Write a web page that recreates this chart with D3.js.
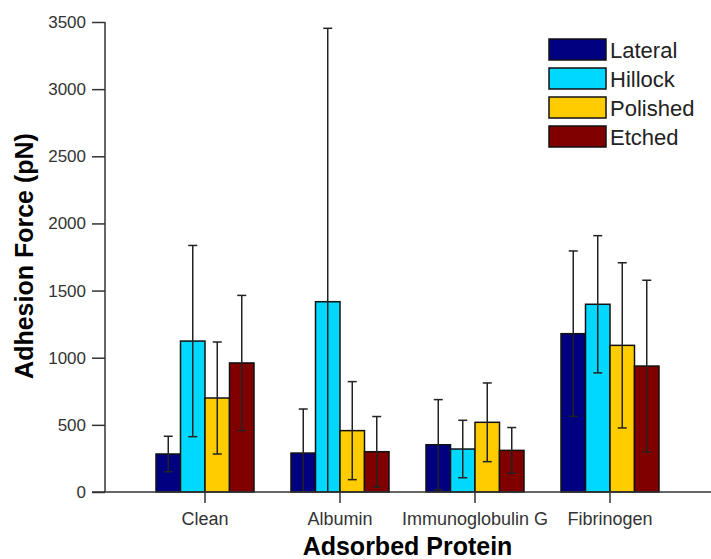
<!DOCTYPE html>
<meta charset="utf-8">
<head>
  <style>
    body { margin: 0; background: #fff; font-family: "Liberation Sans", Arial, sans-serif; }
    .tick text { fill: #333; font-size: 17px; }
    .x-axis .tick text { font-size: 18px; }
    .axis-title { font-size: 25px; font-weight: bold; fill: #000; }
    .legend-text { font-size: 22px; fill: #222; }
  </style>
  <script src="https://cdn.jsdelivr.net/npm/d3@7"></script>
</head>
<body>
  <div id="viz"></div>
</body>
<script>
var proteins = ["Clean", "Albumin", "Immunoglobulin G", "Fibrinogen"];
var surfaces = ["Lateral", "Hillock", "Polished", "Etched"];
var colors = ["#000080", "#00d8ff", "#ffcc00", "#800000"];
var yTicks = [0, 500, 1000, 1500, 2000, 2500, 3000, 3500];

// mean force per surface, one entry per protein
var lateral  = [283, 290, 352, 1179];
var hillock  = [1124, 1417, 320, 1398];
var polished = [700, 457, 519, 1092];
var etched   = [961, 300, 310, 938];

// error bar half-width (pN)
var lateralErr  = [132, 328, 336, 616];
var hillockErr  = [712, 2036, 214, 511];
var polishedErr = [417, 365, 293, 615];
var etchedErr   = [503, 262, 170, 639];

var means = [lateral, hillock, polished, etched];
var errs = [lateralErr, hillockErr, polishedErr, etchedErr];

var width = 711, height = 559;

var svg = d3.select("#viz")
  .append("svg")
    .attr("width", width)
    .attr("height", height);

var x = d3.scaleBand()
  .domain(proteins)
  .range([137.5, 677.5])
  .paddingInner(0.274)
  .paddingOuter(0.137);

var xs = d3.scaleBand()
  .domain(surfaces)
  .range([0, x.bandwidth()]);

var y = d3.scaleLinear()
  .domain([0, 3500])
  .range([492, 22]);

var rows = [];
proteins.forEach(function(p, i) {
  surfaces.forEach(function(s, j) {
    rows.push({protein: p, surface: s, idx: j, value: means[j][i], err: errs[j][i]});
  });
});

/* bars */
svg.selectAll(".bar")
  .data(rows)
  .enter()
  .append("rect")
    .attr("class", "bar")
    .attr("x", function(d) { return x(d.protein) + xs(d.surface); })
    .attr("y", function(d) { return y(d.value); })
    .attr("width", xs.bandwidth())
    .attr("height", function(d) { return y(0) - y(d.value); })
    .attr("fill", function(d) { return colors[d.idx]; })
    .attr("stroke", "#111")
    .attr("stroke-width", 1.5);

/* error bars */
var eb = svg.selectAll(".err")
  .data(rows)
  .enter()
  .append("g")
    .attr("class", "err")
    .attr("stroke", "#222")
    .attr("stroke-width", 1.5)
    .attr("transform", function(d) {
      return "translate(" + (x(d.protein) + xs(d.surface) + xs.bandwidth() / 2) + ",0)";
    });

eb.append("line")
  .attr("y1", function(d) { return y(d.value + d.err); })
  .attr("y2", function(d) { return y(Math.max(0, d.value - d.err)); });

eb.append("line")
  .attr("x1", -4.5).attr("x2", 4.5)
  .attr("y1", function(d) { return y(d.value + d.err); })
  .attr("y2", function(d) { return y(d.value + d.err); });

eb.filter(function(d) { return d.value - d.err > 0; })
  .append("line")
  .attr("x1", -4.5).attr("x2", 4.5)
  .attr("y1", function(d) { return y(d.value - d.err); })
  .attr("y2", function(d) { return y(d.value - d.err); });

/* y axis */
var yAxis = svg.append("g")
  .attr("transform", "translate(105,0)")
  .call(d3.axisLeft(y).tickValues(yTicks).tickFormat(d3.format("d"))
    .tickSize(13).tickSizeOuter(0).tickPadding(6));
yAxis.select(".domain").remove();
yAxis.selectAll(".tick line").attr("stroke", "#333").attr("stroke-width", 1.5);

svg.append("line")
  .attr("x1", 105).attr("x2", 105)
  .attr("y1", y(3500)).attr("y2", y(0))
  .attr("stroke", "#333").attr("stroke-width", 1.5);

/* x axis */
var xAxis = svg.append("g")
  .attr("class", "x-axis")
  .attr("transform", "translate(0," + y(0) + ")")
  .call(d3.axisBottom(x).tickSize(11).tickSizeOuter(0).tickPadding(9));
xAxis.select(".domain").remove();
xAxis.selectAll(".tick line").attr("stroke", "#333").attr("stroke-width", 1.5);

svg.append("line")
  .attr("x1", 92).attr("x2", width)
  .attr("y1", y(0)).attr("y2", y(0))
  .attr("stroke", "#333").attr("stroke-width", 1.5);

svg.selectAll(".tick text").style("font-family", "'Liberation Sans', Arial, sans-serif");

/* axis titles */
svg.append("text")
  .attr("class", "axis-title")
  .attr("text-anchor", "middle")
  .attr("transform", "translate(33,256) rotate(-90)")
  .text("Adhesion Force (pN)");

svg.append("text")
  .attr("class", "axis-title")
  .attr("text-anchor", "middle")
  .attr("x", (x.range()[0] + x.range()[1]) / 2)
  .attr("y", 555)
  .text("Adsorbed Protein");

/* legend */
var legend = svg.selectAll(".legend")
  .data(surfaces)
  .enter()
  .append("g")
    .attr("class", "legend")
    .attr("transform", function(d, i) { return "translate(549," + (39 + i * 29) + ")"; });

legend.append("rect")
  .attr("width", 57)
  .attr("height", 21)
  .attr("fill", function(d, i) { return colors[i]; })
  .attr("stroke", "#111")
  .attr("stroke-width", 1.5);

legend.append("text")
  .attr("class", "legend-text")
  .attr("x", 61)
  .attr("y", 18.5)
  .text(function(d) { return d; });
</script>
